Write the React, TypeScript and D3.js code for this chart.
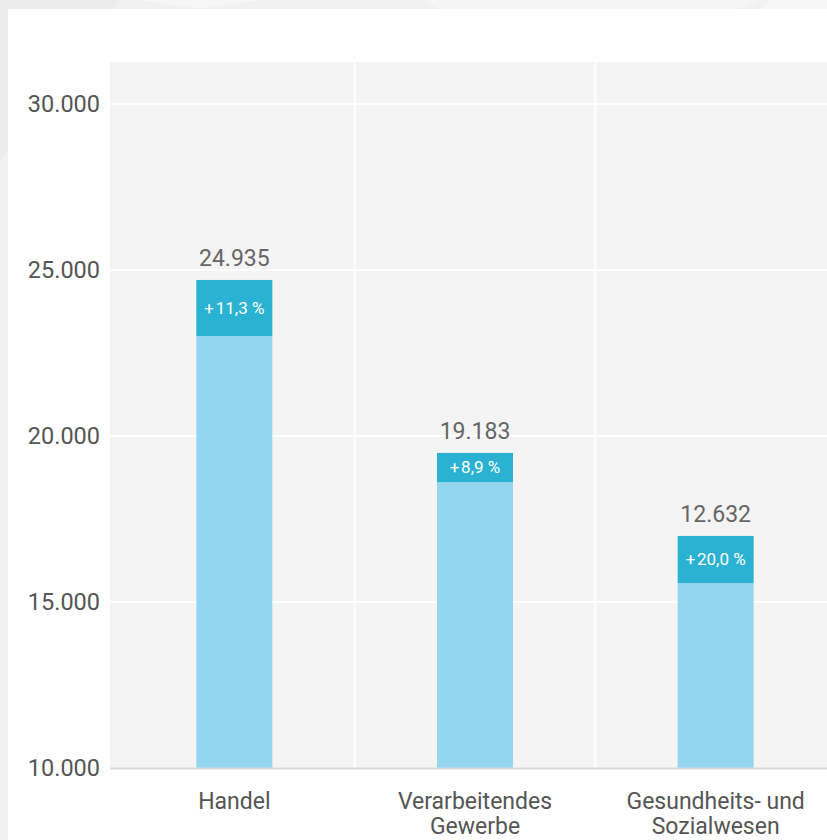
import * as d3 from "d3";
import React from "react";

const categories = ["Handel", "Verarbeitendes Gewerbe", "Gesundheits- und Sozialwesen"];
const categoryLines = [["Handel"], ["Verarbeitendes", "Gewerbe"], ["Gesundheits- und", "Sozialwesen"]];
const baseValues = [23010, 18610, 15570];
const totalValues = [24700, 19490, 16990];
const valueLabels = ["24.935", "19.183", "12.632"];
const changeLabels = ["+\u200A11,3 %", "+\u200A8,9 %", "+\u200A20,0 %"];
const yTicks = [10000, 15000, 20000, 25000, 30000];

const width = 827;
const height = 840;
const plot = { left: 110, right: 827, top: 62, bottom: 768 };
const font = "Roboto, 'DejaVu Sans', sans-serif";

const fmt = (v: number) => d3.format(",")(v).replace(/,/g, ".");

export default function App() {
  const y = d3.scaleLinear().domain([10000, 30000]).range([plot.bottom, 104]);
  const x = d3.scaleBand<string>().domain(categories).range([114, 836]).padding(0);
  const barW = 76;
  const step = x.step();

  return (
    <svg
      width={width}
      height={height}
      style={{ position: "absolute", left: 0, top: 0, display: "block" }}
      fontFamily={font}
    >
      {/* page background with faint shapes */}
      <rect x={0} y={0} width={width} height={height} fill="#f1f1f1" />
      <polygon points="0,0 120,0 0,160" fill="#ececec" />
      <polygon points="140,0 260,0 200,9" fill="#f6f6f6" />
      <polygon points="420,0 760,0 740,9 440,9" fill="#f5f5f5" />
      <polygon points="770,0 827,0 827,9 760,9" fill="#f7f7f7" />
      <rect x={8} y={9} width={width - 8} height={height - 9} fill="#ffffff" />

      {/* plot area */}
      <rect
        x={plot.left}
        y={plot.top}
        width={plot.right - plot.left}
        height={plot.bottom - plot.top}
        fill="#f4f4f4"
      />
      {yTicks.slice(1).map((t) => (
        <line
          key={t}
          x1={plot.left}
          x2={plot.right}
          y1={y(t)}
          y2={y(t)}
          stroke="#ffffff"
          strokeWidth={2}
        />
      ))}
      {categories.slice(1).map((c) => (
        <line
          key={c}
          x1={x(c)!}
          x2={x(c)!}
          y1={plot.top}
          y2={plot.bottom}
          stroke="#ffffff"
          strokeWidth={2}
        />
      ))}

      {/* bars */}
      {categories.map((c, i) => {
        const cx = x(c)! + step / 2;
        const yTop = y(totalValues[i]);
        const ySplit = y(baseValues[i]);
        return (
          <g key={c}>
            <rect x={cx - barW / 2} y={ySplit} width={barW} height={y(10000) - ySplit} fill="#94d5ef" />
            <rect x={cx - barW / 2} y={yTop} width={barW} height={ySplit - yTop} fill="#2bb2d3" />
            <text
              x={cx}
              y={(yTop + ySplit) / 2}
              dy="0.35em"
              textAnchor="middle"
              fill="#ffffff"
              fontSize={17}
            >
              {changeLabels[i]}
            </text>
            <text x={cx} y={yTop - 14} textAnchor="middle" fill="#666666" fontSize={23}>
              {valueLabels[i]}
            </text>
          </g>
        );
      })}

      {/* baseline */}
      <line x1={plot.left} x2={plot.right} y1={plot.bottom + 0.5} y2={plot.bottom + 0.5} stroke="#dcdcdc" strokeWidth={2} />

      {/* y axis labels */}
      {yTicks.map((t) => (
        <text key={t} x={100} y={y(t)} dy="0.35em" textAnchor="end" fill="#555555" fontSize={23.5}>
          {fmt(t)}
        </text>
      ))}

      {/* category labels */}
      {categories.map((c, i) => (
        <text key={c} x={x(c)! + step / 2} y={809} textAnchor="middle" fill="#555555" fontSize={23}>
          {categoryLines[i].map((l, j) => (
            <tspan key={j} x={x(c)! + step / 2} dy={j === 0 ? 0 : 25}>
              {l}
            </tspan>
          ))}
        </text>
      ))}
    </svg>
  );
}
